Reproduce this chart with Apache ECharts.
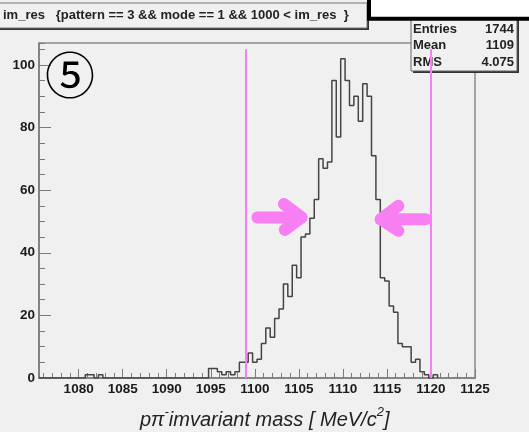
<!DOCTYPE html>
<html>
<head>
<meta charset="utf-8">
<title>im_res</title>
<script src="https://cdn.jsdelivr.net/npm/echarts@6/dist/echarts.min.js"></script>
<style>
  html, body { margin: 0; padding: 0; background: #f0f0f0; }
  #main { width: 529px; height: 432px; }
</style>
</head>
<body>
<div id="main"></div>
<script>
// histogram of im_res, 0.5 MeV bins, first bin starts at binLowEdge
var binLowEdge = 1080.75;
var binWidth = 0.5;
var counts = [
    1, 1, 0, 1,
    0, 0, 0, 0, 0, 0, 0, 0, 0, 0, 0, 0,
    0, 0, 0, 0, 0, 0, 0, 0, 0, 0, 0, 0,
    3, 3, 2, 1, 2, 1, 2, 5, 5, 8, 5, 6,
    11, 16, 13, 19, 22, 30, 26, 36, 32, 45, 46, 51,
    57, 70, 67, 69, 95, 77, 102, 95, 87, 90, 82, 94,
    90, 71, 57, 32, 31, 23, 21, 11, 10, 10, 5, 6,
    2, 1, 0, 1
];
var xRange = [1075.5, 1125];
var yRange = [0, 107];
var cutLines = [1099, 1120];   // magenta cut lines
var cutTop = 105;
// FWHM arrows, in data coordinates
var arrowPaths = [
    [[1100.3, 51.3], [1105.3, 51.3]],
    [[1103.3, 55.6], [1105.3, 51.3], [1103.4, 47.3]],
    [[1119.4, 50.7], [1114.3, 50.7]],
    [[1116.3, 55.0], [1114.3, 50.7], [1116.3, 47.0]]
];
var statsNames = ['Entries', 'Mean', 'RMS'];
var statsValues = ['1744', '1109', '4.075'];
var titleText = 'im_res   {pattern == 3 && mode == 1 && 1000 < im_res  }';

var fontFam = '"Liberation Sans", Arial, sans-serif';
var axisGray = '#7a7a7a';
var pink = '#f77ff2';

// outline points for step drawing
var histPts = [[xRange[0], 0]];
for (var i = 0; i < counts.length; i++) {
    histPts.push([binLowEdge + i * binWidth, counts[i]]);
}
histPts.push([binLowEdge + counts.length * binWidth, 0]);

var markData = cutLines.map(function (v) {
    return [{coord: [v, 0]}, {coord: [v, cutTop]}];
});

var statsGraphic = [];
statsGraphic.push({
    type: 'rect', shape: {x: 413, y: 16, width: 106, height: 57},
    style: {fill: '#333'}, z: 1, silent: true
});
statsGraphic.push({
    type: 'rect', shape: {x: 411, y: 14, width: 106, height: 57},
    style: {fill: '#f0f0f0', stroke: '#666', lineWidth: 1}, z: 1, silent: true
});
for (var k = 0; k < statsNames.length; k++) {
    statsGraphic.push({
        type: 'text', x: 413, y: 29 + k * 16.5, z: 1, silent: true,
        style: {text: statsNames[k], font: 'bold 13px ' + fontFam, fill: '#222',
            textAlign: 'left', textVerticalAlign: 'middle'}
    });
    statsGraphic.push({
        type: 'text', x: 514, y: 29 + k * 16.5, z: 1, silent: true,
        style: {text: statsValues[k], font: 'bold 13px ' + fontFam, fill: '#222',
            textAlign: 'right', textVerticalAlign: 'middle'}
    });
}

function plainNum(v) {
    return String(v);
}

var myChart = echarts.init(document.getElementById('main'));
var option = {
    backgroundColor: '#f0f0f0',
    animation: false,
    grid: {
        left: 39, top: 43, right: 54, bottom: 54,
        show: true, borderColor: '#8a8a8a', borderWidth: 1.5, backgroundColor: 'transparent'
    },
    xAxis: [{
        type: 'value', min: xRange[0], max: xRange[1],
        splitNumber: 10, minInterval: 5, maxInterval: 5,
        axisLine: {lineStyle: {color: axisGray, width: 1.5}},
        axisTick: {inside: true, length: 9, lineStyle: {color: axisGray}},
        axisLabel: {showMinLabel: false, margin: 4, color: '#1a1a1a', formatter: plainNum,
            fontFamily: fontFam, fontWeight: 'bold', fontSize: 13.5},
        splitLine: {show: false}
    }, {
        type: 'value', position: 'bottom', min: xRange[0], max: xRange[1],
        splitNumber: 50, minInterval: 1, maxInterval: 1,
        axisLine: {show: false},
        axisTick: {inside: true, length: 5, lineStyle: {color: axisGray}},
        axisLabel: {show: false},
        splitLine: {show: false}
    }],
    yAxis: [{
        type: 'value', min: yRange[0], max: yRange[1], interval: 20,
        axisLine: {show: true, lineStyle: {color: axisGray, width: 1.5}},
        axisTick: {show: true, inside: true, length: 12, lineStyle: {color: axisGray}},
        axisLabel: {showMaxLabel: false, margin: 4, color: '#1a1a1a', formatter: plainNum,
            fontFamily: fontFam, fontWeight: 'bold', fontSize: 13.5},
        splitLine: {show: false}
    }, {
        type: 'value', position: 'left', min: yRange[0], max: yRange[1], interval: 5,
        axisLine: {show: false},
        axisTick: {show: true, inside: true, length: 6, lineStyle: {color: axisGray}},
        axisLabel: {show: false},
        splitLine: {show: false}
    }],
    series: [{
        type: 'line',
        xAxisIndex: 0, yAxisIndex: 0,
        step: 'end',
        data: histPts,
        showSymbol: false,
        lineStyle: {color: '#444', width: 1.5},
        z: 3,
        markLine: {
            silent: true, symbol: 'none',
            label: {show: false},
            lineStyle: {color: pink, width: 2, type: 'solid'},
            data: markData
        }
    }, {
        type: 'lines',
        coordinateSystem: 'cartesian2d',
        xAxisIndex: 0, yAxisIndex: 0,
        polyline: true,
        silent: true,
        z: 5,
        lineStyle: {color: pink, width: 12, opacity: 1, cap: 'round', join: 'round'},
        data: arrowPaths.map(function (p) { return {coords: p}; })
    }],
    graphic: [
        // title pave
        {type: 'rect', shape: {x: -5, y: 5, width: 374, height: 25}, style: {fill: '#333'}, z: 1, silent: true},
        {type: 'rect', shape: {x: -5, y: 3, width: 372, height: 25},
            style: {fill: '#f0f0f0', stroke: '#777', lineWidth: 1}, z: 1, silent: true},
        {type: 'text', x: 3, y: 15.5, z: 1, silent: true,
            style: {text: titleText, font: 'bold 13px ' + fontFam, fill: '#222',
                textAlign: 'left', textVerticalAlign: 'middle'}},
        // black framed white box, top right
        {type: 'rect', shape: {x: 369, y: -10, width: 200, height: 28.7},
            style: {fill: '#fff', stroke: '#000', lineWidth: 4}, z: 2, silent: true},
        {type: 'text', x: 70, y: 75, z: 1, silent: true,
            style: {text: '\u2464', font: '50px "Noto Sans CJK JP"', fill: '#000',
                textAlign: 'center', textVerticalAlign: 'middle'}},
        {type: 'text', x: 140, y: 418, z: 1, silent: true,
            style: {
                text: '{a|p\u03c0}{s|-}{a|imvariant mass [ MeV/c}{s|2}{a|]}',
                textAlign: 'left', textVerticalAlign: 'middle',
                rich: {
                    a: {font: 'italic 20px ' + fontFam, fill: '#222', verticalAlign: 'bottom', lineHeight: 24},
                    s: {font: 'italic 13px ' + fontFam, fill: '#222', verticalAlign: 'top', lineHeight: 24}
                }
            }}
    ].concat(statsGraphic)
};
myChart.setOption(option);
</script>
</body>
</html>
